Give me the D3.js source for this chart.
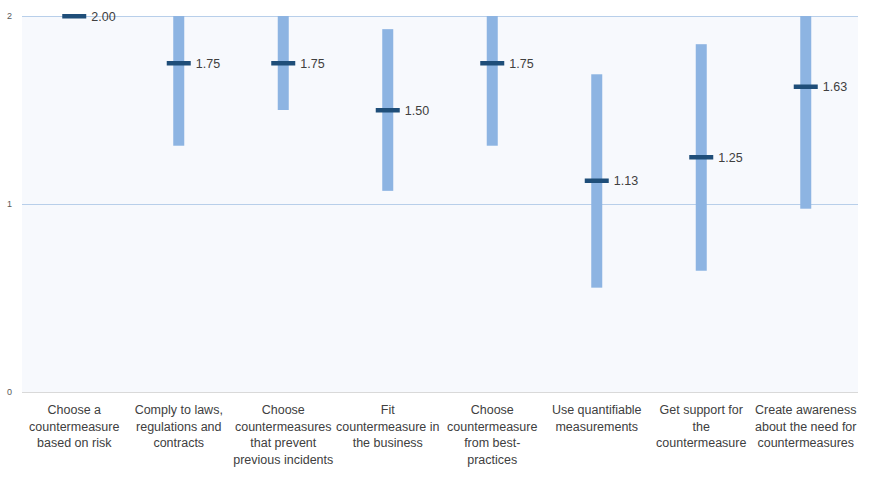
<!DOCTYPE html>
<html>
<head>
<meta charset="utf-8">
<script src="https://cdn.jsdelivr.net/npm/d3@7"></script>
<style>
  body { margin: 0; background: #fff; }
  text { font-family: "Liberation Sans", Arial, sans-serif; }
</style>
</head>
<body>
<svg id="chart" width="869" height="480"></svg>
<script>
// categories (line breaks as in the original axis)
var categories = [
	"Choose a\ncountermeasure\nbased on risk",
	"Comply to laws,\nregulations and\ncontracts",
	"Choose\ncountermeasures\nthat prevent\nprevious incidents",
	"Fit\ncountermeasure in\nthe business",
	"Choose\ncountermeasure\nfrom best-\npractices",
	"Use quantifiable\nmeasurements",
	"Get support for\nthe\ncountermeasure",
	"Create awareness\nabout the need for\ncountermeasures"
];
var means = [2.00, 1.75, 1.75, 1.50, 1.75, 1.125, 1.25, 1.625];
var lows  = [2.00, 1.31, 1.50, 1.07, 1.31, 0.555, 0.645, 0.975];
var highs = [2.00, 2.19, 2.00, 1.93, 2.19, 1.69, 1.85, 2.27];
var yTicks = [0, 1, 2];

var margin = { top: 16, right: 11, bottom: 88, left: 22 },
	width = 869 - margin.left - margin.right,
	height = 480 - margin.top - margin.bottom;

var svg = d3.select("#chart");
var g = svg.append("g")
	.attr("transform", "translate(" + margin.left + "," + margin.top + ")");

var x = d3.scaleBand().domain(d3.range(categories.length)).range([0, width]);
var y = d3.scaleLinear().domain([0, 2]).range([height, 0]).clamp(true);

// plot background
g.append("rect")
	.attr("width", width)
	.attr("height", height)
	.attr("fill", "#f7f9fd");

// gridlines
g.selectAll("line.grid").data(yTicks).enter().append("line")
	.attr("class", "grid")
	.attr("x1", 0).attr("x2", width)
	.attr("y1", d => y(d) + 0.5).attr("y2", d => y(d) + 0.5)
	.attr("stroke", d => d == 0 ? "#d9d9d9" : "#b8cfea")
	.attr("stroke-width", 1);

// y tick labels
g.selectAll("text.ytick").data(yTicks).enter().append("text")
	.attr("class", "ytick")
	.attr("x", -10)
	.attr("y", d => y(d))
	.attr("dy", "0.35em")
	.attr("text-anchor", "end")
	.attr("font-size", 9)
	.attr("fill", "#595959")
	.text(d => d);

var cx = i => x(i) + x.bandwidth() / 2;
var fmt = d3.format(".2f");

// range bars
g.selectAll("rect.range").data(means).enter().append("rect")
	.attr("class", "range")
	.attr("x", (d, i) => cx(i) - 5.5)
	.attr("width", 11)
	.attr("y", (d, i) => y(highs[i]))
	.attr("height", (d, i) => y(lows[i]) - y(highs[i]))
	.attr("fill", "#8db4e2");

// mean markers
g.selectAll("rect.mean").data(means).enter().append("rect")
	.attr("class", "mean")
	.attr("x", (d, i) => cx(i) - 12)
	.attr("width", 24)
	.attr("y", d => y(d) - 2)
	.attr("height", 4.5)
	.attr("fill", "#1f4e79");

// value labels
g.selectAll("text.value").data(means).enter().append("text")
	.attr("class", "value")
	.attr("x", (d, i) => cx(i) + 17)
	.attr("y", d => y(d) + 0.5)
	.attr("dy", "0.35em")
	.attr("font-size", 12.5)
	.attr("fill", "#404040")
	.text(d => fmt(d));

// category labels
var labels = g.selectAll("text.cat").data(categories).enter().append("text")
	.attr("class", "cat")
	.attr("text-anchor", "middle")
	.attr("font-size", 12.5)
	.attr("fill", "#404040")
	.attr("transform", (d, i) => "translate(" + cx(i) + "," + (height + 22) + ")");

labels.each(function(d) {
	d3.select(this).selectAll("tspan").data(d.split("\n")).enter().append("tspan")
		.attr("x", 0)
		.attr("y", (l, j) => j * 16.5)
		.text(l => l);
});
</script>
</body>
</html>
